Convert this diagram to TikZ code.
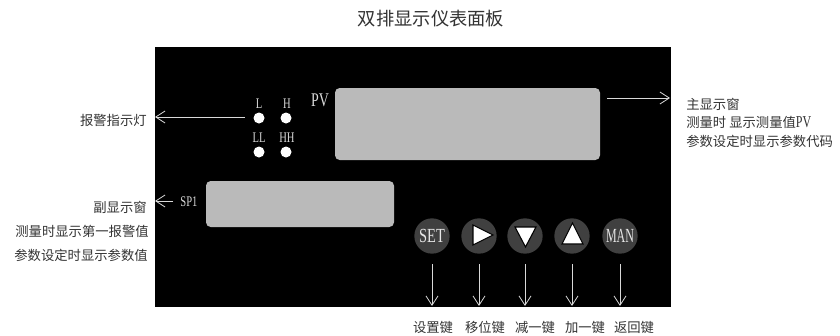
\documentclass[tikz,border=0pt]{standalone}
\usepackage{fontspec}
\setmainfont{Liberation Serif}
\newfontfamily\cjk{Noto Sans CJK SC}
\newfontfamily\narrowfont[FakeStretch=0.72]{Liberation Serif}
\newfontfamily\narrowerfont[FakeStretch=0.6]{Liberation Serif}
\usetikzlibrary{arrows.meta}
\tikzset{
	note/.style={font=\cjk\fontsize{10}{12}\selectfont,text=black!80,inner sep=0pt},
	tag/.style={font=\narrowfont\fontsize{11}{13}\selectfont,text=white!85!black,inner sep=0pt},
	lamp/.style={circle,fill=white,inner sep=0pt,minimum size=8.25pt},
	keybtn/.style={circle,fill=black!75,text=white!90!black,inner sep=0pt,minimum size=26.5pt,font=\narrowfont\fontsize{15}{17}\selectfont},
	window/.style={draw=none,fill=black!27,rounded corners=3.5pt,inner sep=0pt},
	lead/.style={->,>={Straight Barb[length=7pt,width=9pt]},white!85!black,semithick},
	mark tri/.style={fill=white,draw=black,thick,line join=miter},
}
\begin{document}
\begin{tikzpicture}[x=0.75pt,y=-0.75pt]
	\useasboundingbox (0,0) rectangle (840,336);
	\node[font=\cjk\fontsize{13.7}{16}\selectfont,text=black!80,inner sep=0pt] (title) at (431,19) {双排显示仪表面板};
	% panel
	\fill[black] (155,47) rectangle (671,307);
	\node[window,minimum width=198.75pt,minimum height=54pt] (mainwin) at (467.5,124) {};
	\node[window,minimum width=141pt,minimum height=34.5pt] (subwin) at (300,204) {};
	\node[tag,font=\narrowfont\fontsize{14.5}{16}\selectfont] (pv) at (320,100) {PV};
	\node[tag] (sp) at (189,202) {SP1};
	% lamps
	\node[lamp] (lampL) at (259,118) {};
	\node[lamp] (lampH) at (286,118) {};
	\node[lamp] (lampLL) at (259,152) {};
	\node[lamp] (lampHH) at (286,152) {};
	\node[tag] (tagL) at (259,104) {L};
	\node[tag] (tagH) at (287,104) {H};
	\node[tag] (tagLL) at (259,138) {LL};
	\node[tag] (tagHH) at (287,138) {HH};
	% keys
	\node[keybtn] (set) at (432,236) {SET};
	\node[keybtn] (move) at (479,236) {};
	\node[keybtn] (down) at (525,236) {};
	\node[keybtn] (up) at (572,236) {};
	\node[keybtn,font=\narrowerfont\fontsize{15}{17}\selectfont] (man) at (620,236) {MAN};
	\draw[mark tri] (move) ++(-6,-11) -- ++(20,10) -- ++(-20,10) -- cycle;
	\draw[mark tri] (down) ++(-10,-9) -- ++(21,0) -- ++(-10.5,20) -- cycle;
	\draw[mark tri] (up) ++(-10,8) -- ++(21,0) -- ++(-10.5,-21) -- cycle;
	% texts outside
	\node[note,anchor=east] (alarm) at (147,120) {报警指示灯};
	\node[note,anchor=east] (sub1) at (147,207) {副显示窗};
	\node[note,anchor=east] (sub2) at (149,231) {测量时显示第一报警值};
	\node[note,anchor=east] (sub3) at (148,255) {参数设定时显示参数值};
	\node[note,anchor=west] (main1) at (686,104) {主显示窗};
	\node[note,anchor=west] (main2) at (686,122) {测量时 显示测量值{\narrowfont\fontsize{12.5}{12}\selectfont PV}};
	\node[note,anchor=west] (main3) at (686,141) {参数设定时显示参数代码};
	\node[note] (lset) at (433,327) {设置键};
	\node[note] (lmove) at (485,327) {移位键};
	\node[note] (ldown) at (535,327) {减一键};
	\node[note] (lup) at (585,327) {加一键};
	\node[note] (lman) at (634,327) {返回键};
	% leads
	\coordinate (A) at (245,117);
	\coordinate (B) at (155,117);
	\draw[lead] (A)--(B);
	\coordinate (C) at (173,201);
	\coordinate (D) at (155,201);
	\draw[lead] (C)--(D);
	\coordinate (E) at (607,98);
	\coordinate (F) at (670,98);
	\draw[lead] (E)--(F);
	\draw[lead] (set)++(0,28) coordinate (s0) -- ++(0,42) coordinate (s1);
	\draw[lead] (move)++(0,28) coordinate (m0) -- ++(0,42) coordinate (m1);
	\draw[lead] (down)++(0,28) coordinate (d0) -- ++(0,42) coordinate (d1);
	\draw[lead] (up)++(0,28) coordinate (u0) -- ++(0,42) coordinate (u1);
	\draw[lead] (man)++(0,28) coordinate (n0) -- ++(0,42) coordinate (n1);
\end{tikzpicture}
\end{document}
